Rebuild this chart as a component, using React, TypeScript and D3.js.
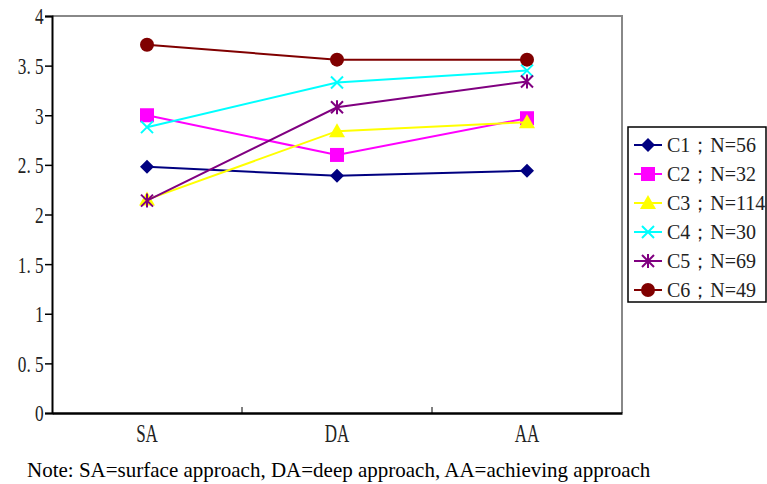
import React, { useEffect, useRef } from 'react'
import * as d3 from 'd3'

const categories = ['SA', 'DA', 'AA']
const seriesNames = ['C1；N=56', 'C2；N=32', 'C3；N=114', 'C4；N=30', 'C5；N=69', 'C6；N=49']
const c1 = [2.48, 2.39, 2.44]
const c2 = [3.0, 2.6, 2.97]
const c3 = [2.15, 2.84, 2.93]
const c4 = [2.88, 3.33, 3.45]
const c5 = [2.14, 3.08, 3.34]
const c6 = [3.71, 3.56, 3.56]
const yTicks = [0, 0.5, 1, 1.5, 2, 2.5, 3, 3.5, 4]
const colors = ['#000080', '#ff00ff', '#ffff00', '#00ffff', '#800080', '#800000']
const shapes = ['diamond', 'square', 'triangle', 'x', 'star', 'circle']

const FONT = "'Liberation Serif', 'DejaVu Serif', serif"

function drawMarker(g: any, shape: string, x: number, y: number, color: string) {
  if (shape === 'diamond') {
    g.append('path').attr('d', `M${x},${y - 7}L${x + 7},${y}L${x},${y + 7}L${x - 7},${y}Z`).attr('fill', color)
  } else if (shape === 'square') {
    g.append('rect').attr('x', x - 7).attr('y', y - 7).attr('width', 14).attr('height', 14).attr('fill', color)
  } else if (shape === 'triangle') {
    g.append('path').attr('d', `M${x},${y - 8}L${x + 8},${y + 6}L${x - 8},${y + 6}Z`).attr('fill', color)
  } else if (shape === 'x') {
    g.append('path').attr('d', `M${x - 6},${y - 6}L${x + 6},${y + 6}M${x - 6},${y + 6}L${x + 6},${y - 6}`)
      .attr('stroke', color).attr('stroke-width', 2)
  } else if (shape === 'star') {
    g.append('path').attr('d', `M${x - 6},${y - 6}L${x + 6},${y + 6}M${x - 6},${y + 6}L${x + 6},${y - 6}M${x},${y - 7}L${x},${y + 7}`)
      .attr('stroke', color).attr('stroke-width', 2)
  } else {
    g.append('circle').attr('cx', x).attr('cy', y).attr('r', 7).attr('fill', color)
  }
}

export default function App() {
  const svgRef = useRef<SVGSVGElement>(null)

  useEffect(() => {
    if (!svgRef.current) return
    const svg = d3.select(svgRef.current)
    svg.selectAll('*').remove()

    const series = [c1, c2, c3, c4, c5, c6]
    const left = 52, right = 622, top = 16, bottom = 413

    const x = d3.scaleBand().domain(categories).range([left, right])
    const y = d3.scaleLinear().domain([0, 4]).range([bottom, top])

    // plot frame: gray top/right, black axes
    svg.append('path').attr('d', `M${left},${top}H${right}V${bottom}`)
      .attr('fill', 'none').attr('stroke', '#888').attr('stroke-width', 2)

    const yAxis = svg.append('g').attr('transform', `translate(${left},0)`)
      .call(d3.axisLeft(y).tickValues(yTicks).tickSize(7).tickFormat((d: any) => String(d).replace('.', '. ')))
    yAxis.attr('font-family', null).attr('font-size', null)
    yAxis.select('.domain').attr('stroke', '#000').attr('stroke-width', 2)
    yAxis.selectAll('.tick line').attr('stroke', '#000').attr('stroke-width', 1.5)
    yAxis.selectAll('text').style('font-family', FONT).style('font-size', '24px')
      .attr('fill', '#222').attr('x', -11.5).attr('dy', '0.33em').attr('transform', 'scale(0.72,1)')
      .style('white-space', 'pre')

    const xAxis = svg.append('g').attr('transform', `translate(0,${bottom})`)
      .call(d3.axisBottom(x).tickSize(0))
    xAxis.attr('font-family', null).attr('font-size', null)
    xAxis.select('.domain').attr('stroke', '#000').attr('stroke-width', 2.5)
    xAxis.selectAll('text').style('font-family', FONT).style('font-size', '25px')
      .attr('fill', '#222').attr('y', 29).attr('dy', 0).attr('transform', 'scale(0.68,1)')
    // category separators
    categories.slice(1).forEach(c => {
      const sx = x(c)!
      svg.append('line').attr('x1', sx).attr('x2', sx).attr('y1', bottom - 6).attr('y2', bottom)
        .attr('stroke', '#000').attr('stroke-width', 1)
    })

    const cx = (c: string) => x(c)! + x.bandwidth() / 2
    const line = d3.line<number>().x((_, i) => cx(categories[i])).y(d => y(d))

    series.forEach((s, i) => {
      const g = svg.append('g')
      g.append('path').datum(s).attr('d', line).attr('fill', 'none')
        .attr('stroke', colors[i]).attr('stroke-width', 2)
      s.forEach((v, j) => drawMarker(g, shapes[i], cx(categories[j]), y(v), colors[i]))
    })

    // legend
    const lg = svg.append('g')
    lg.append('rect').attr('x', 628).attr('y', 127).attr('width', 138).attr('height', 175)
      .attr('fill', '#fff').attr('stroke', '#000').attr('stroke-width', 1.5)
    seriesNames.forEach((name, i) => {
      const ly = 145 + i * 29
      lg.append('line').attr('x1', 634).attr('x2', 662).attr('y1', ly).attr('y2', ly)
        .attr('stroke', colors[i]).attr('stroke-width', 2)
      drawMarker(lg, shapes[i], 648, ly, colors[i])
      lg.append('text').attr('x', 667).attr('y', ly + 7).style('font-family', FONT)
        .style('font-size', '20px').attr('fill', '#222').text(name)
    })

    svg.append('text').attr('x', 27).attr('y', 477).style('font-family', FONT)
      .style('font-size', '21px').attr('fill', '#000')
      .text('Note: SA=surface approach, DA=deep approach, AA=achieving approach')
  }, [])

  return (
    <svg ref={svgRef} width={767} height={484}
      style={{ position: 'absolute', left: 0, top: 0, background: '#fff' }} />
  )
}
